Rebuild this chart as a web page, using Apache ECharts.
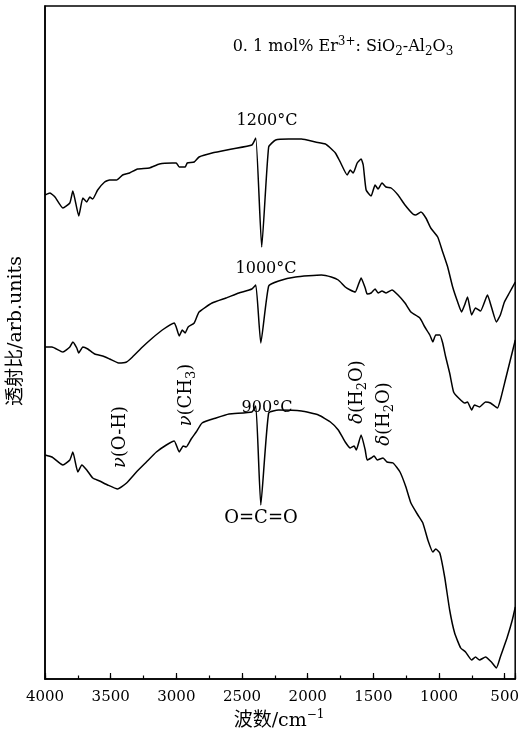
<!DOCTYPE html>
<html>
<head>
<meta charset="utf-8">
<script src="https://cdn.jsdelivr.net/npm/echarts@6/dist/echarts.min.js"></script>
<style>
html,body{margin:0;padding:0;background:#fff;}
#chart{width:522px;height:742px;}
</style>
</head>
<body>
<div id="chart"></div>
<script>
// Wavenumbers (cm^-1) and transmittance (arb. units)
const wn1200 = [4000,3962,3924,3864,3811,3788,3743,3712,3682,3659,3637,3599,3546,3508,3455,3409,3356,3296,3205,3129,3031,3001,2978,2933,2917,2864,2827,2728,2577,2425,2395,2350,2297,2244,2145,2047,1941,1865,1827,1789,1752,1699,1676,1653,1623,1593,1577,1555,1517,1487,1464,1434,1403,1365,1312,1259,1199,1176,1138,1100,1063,1010,972,934,896,858,828,805,783,752,722,684,631,601,563,533,502,465,419];
const t1200 = [484,486,482,471,476,488,463,481,477,482,480,489,497,499,499,504,506,510,511,515,516,516,512,512,516,517,522,526,530,534,541,432,532,539,540,540,537,535,531,526,517,504,509,506,516,520,514,489,483,494,490,496,492,491,484,474,465,464,467,461,451,442,427,412,392,377,367,374,382,364,371,368,384,372,357,364,377,386,397];

const wn1000 = [4000,3947,3864,3811,3788,3758,3743,3712,3674,3621,3561,3508,3440,3379,3334,3258,3182,3107,3016,3001,2978,2955,2933,2910,2864,2827,2728,2622,2524,2425,2395,2357,2297,2221,2092,1895,1820,1767,1714,1676,1638,1615,1593,1562,1547,1517,1487,1464,1434,1403,1358,1312,1259,1214,1146,1108,1070,1047,1025,994,972,949,919,889,851,805,783,752,730,692,646,608,555,533,495,457,419];
const t1000 = [332,332,327,332,337,331,326,332,330,325,323,320,316,317,322,332,341,349,356,352,343,349,346,352,356,367,376,381,386,390,394,336,393,398,402,404,402,399,392,389,387,394,401,391,385,386,390,386,388,386,389,384,376,367,361,352,344,337,344,344,336,322,306,287,281,276,277,269,274,272,277,276,271,279,299,319,339];

const wn900 = [4000,3947,3864,3811,3788,3750,3720,3682,3637,3584,3523,3447,3379,3304,3228,3152,3076,3016,2978,2948,2925,2887,2849,2804,2698,2599,2425,2395,2357,2297,2221,2047,1918,1827,1767,1714,1676,1646,1630,1593,1562,1547,1517,1494,1471,1426,1396,1350,1297,1252,1214,1161,1123,1085,1047,1025,994,957,919,881,835,798,752,722,692,646,601,563,533,480,442,419];
const t900 = [224,222,214,219,227,207,214,209,201,198,194,190,196,207,217,227,234,238,227,233,232,240,247,256,261,265,267,273,174,266,269,268,264,257,249,237,231,233,229,244,229,219,221,223,219,221,217,216,207,192,176,164,156,139,127,130,126,102,69,46,31,27,19,22,19,22,17,11,22,42,59,72];

const xTicks = [4000,3500,3000,2500,2000,1500,1000,500];
const seriesNames = ['1200°C','1000°C','900°C'];

const SERIF = '"DejaVu Serif","Liberation Serif",serif';
const MIX = '"DejaVu Serif","Noto Sans CJK SC",serif';

const chart = echarts.init(document.getElementById('chart'), null, {renderer:'canvas'});

function mk(wn, t){ return wn.map((w,i)=>[-w, t[i]]); }
const lineSeries = (name, data) => ({
  name, type:'line', data, xAxisIndex:0, yAxisIndex:0,
  showSymbol:false, smooth:0.15, silent:true,
  lineStyle:{color:'#000', width:1.5}
});

function richFor(size){
  const sub = Math.round(size*0.72);
  return {
    n:{fontFamily:SERIF, fontSize:size, color:'#000', lineHeight:size+6},
    sup:{fontFamily:SERIF, fontSize:sub, color:'#000', verticalAlign:'top', lineHeight:size+6, padding:[0,0,8,0]},
    sub:{fontFamily:SERIF, fontSize:sub, color:'#000', verticalAlign:'bottom', lineHeight:size+6, padding:[6,0,0,0]},
    i:{fontFamily:SERIF, fontSize:size, fontStyle:'italic', color:'#000', lineHeight:size+6}
  };
}

function label(x, y, text, size, rot){
  return {
    type:'text', x, y, rotation: rot||0, silent:true,
    style:{text, align:'center', verticalAlign:'middle', fill:'#000',
      font: size+'px '+SERIF, rich: richFor(size)}
  };
}

const option = {
  animation:false,
  backgroundColor:'#fff',
  grid:{left:45, right:4, top:6, bottom:63, show:true, borderColor:'#000', borderWidth:1.5, backgroundColor:'transparent'},
  xAxis:[{
    type:'value', min:-4000, max:-420, interval:500,
    axisLine:{show:true, lineStyle:{color:'#000', width:1.5}},
    axisTick:{show:true, inside:true, length:6, lineStyle:{color:'#000', width:1.2}},
    axisLabel:{color:'#000', fontFamily:SERIF, fontSize:15, margin:11,
      formatter:v => (xTicks.indexOf(-v) >= 0 ? String(-v) : '')},
    splitLine:{show:false}
  },{
    type:'value', min:-4000, max:-420, interval:250, position:'bottom', gridIndex:0,
    axisLine:{show:false},
    axisTick:{show:true, inside:true, length:3.5, lineStyle:{color:'#000', width:1.2}},
    axisLabel:{show:false},
    splitLine:{show:false}
  }],
  yAxis:{
    type:'value', min:0, max:673,
    axisLine:{show:true, lineStyle:{color:'#000', width:1.5}},
    axisTick:{show:false}, axisLabel:{show:false}, splitLine:{show:false}
  },
  series:[
    lineSeries(seriesNames[0], mk(wn1200, t1200)),
    lineSeries(seriesNames[1], mk(wn1000, t1000)),
    lineSeries(seriesNames[2], mk(wn900, t900))
  ],
  graphic:[
    label(343, 47, '{n|0. 1 mol% Er}{sup|3+}{n|: SiO}{sub|2}{n|-Al}{sub|2}{n|O}{sub|3}', 16),
    label(267, 121, '{n|'+seriesNames[0]+'}', 16),
    label(266, 269, '{n|'+seriesNames[1]+'}', 16),
    label(267, 408, '{n|'+seriesNames[2]+'}', 16),
    label(261, 518, '{n|O=C=O}', 18),
    label(120, 437, '{i|ν}{n|(O-H)}', 18, Math.PI/2),
    label(186, 395, '{i|ν}{n|(CH}{sub|3}{n|)}', 18, Math.PI/2),
    label(357, 392, '{i|δ}{n|(H}{sub|2}{n|O)}', 18, Math.PI/2),
    label(384, 414, '{i|δ}{n|(H}{sub|2}{n|O)}', 18, Math.PI/2),
    {
      type:'text', x:16, y:331, rotation:Math.PI/2, silent:true,
      style:{text:'透射比/arb.units', align:'center', verticalAlign:'middle', fill:'#000', font:'19px '+MIX}
    },
    {
      type:'text', x:279, y:721, silent:true,
      style:{text:'{c|波数/cm}{s|−1}', align:'center', verticalAlign:'middle', fill:'#000',
        rich:{c:{fontFamily:MIX, fontSize:19, color:'#000', lineHeight:24},
              s:{fontFamily:SERIF, fontSize:12, color:'#000', verticalAlign:'top', lineHeight:24, padding:[0,0,8,0]}}}
    }
  ]
};
chart.setOption(option);
</script>
</body>
</html>
